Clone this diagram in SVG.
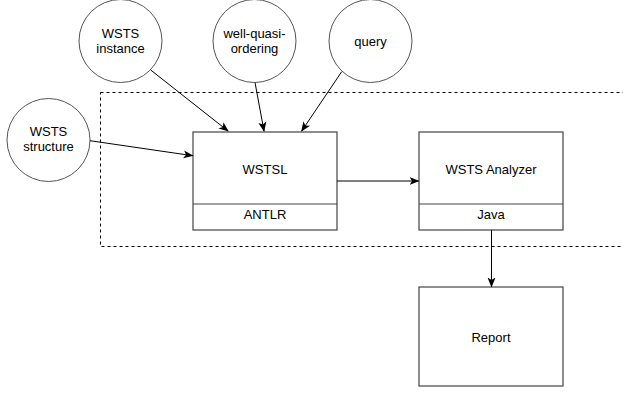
<svg xmlns="http://www.w3.org/2000/svg" width="623" height="394" viewBox="0 0 623 394">
<style>
.c{fill:#fff;stroke:#555;stroke-width:1}
.b{fill:#fff;stroke:#444;stroke-width:1.2}
.t{font-family:"Liberation Sans",Arial,sans-serif;font-size:13px;fill:#000;text-anchor:middle}
.e{fill:none;stroke:#000;stroke-width:1}
</style>
<defs>
<marker id="a" viewBox="0 0 10 10" refX="9" refY="5" markerWidth="10" markerHeight="10" markerUnits="userSpaceOnUse" orient="auto">
<path d="M0,1 L10,5 L0,9 L2.5,5 Z" fill="#000"/>
</marker>
</defs>
<rect x="100.5" y="92.5" width="540" height="154" fill="none" stroke="#000" stroke-width="1" stroke-dasharray="3,3"/>
<g id="wsts-instance"><circle class="c" cx="120.5" cy="41" r="41.5"/><text class="t" x="120.5" y="38">WSTS</text><text class="t" x="120.5" y="53">instance</text></g>
<g id="wqo"><circle class="c" cx="254.5" cy="41" r="41.5"/><text class="t" x="254.5" y="38">well-quasi-</text><text class="t" x="254.5" y="53">ordering</text></g>
<g id="query"><circle class="c" cx="370.5" cy="41" r="41.5"/><text class="t" x="370.5" y="46">query</text></g>
<g id="wsts-structure"><circle class="c" cx="48.5" cy="140" r="41.5"/><text class="t" x="48.5" y="136">WSTS</text><text class="t" x="48.5" y="151">structure</text></g>
<g id="wstsl"><rect class="b" x="193" y="132" width="144" height="98"/><line x1="193" y1="204" x2="337" y2="204" stroke="#444" stroke-width="1.2"/><text class="t" x="265" y="174">WSTSL</text><text class="t" x="265" y="219">ANTLR</text></g>
<g id="analyzer"><rect class="b" x="419" y="132" width="144" height="98"/><line x1="419" y1="204" x2="563" y2="204" stroke="#444" stroke-width="1.2"/><text class="t" x="491" y="174">WSTS Analyzer</text><text class="t" x="491" y="219">Java</text></g>
<g id="report"><rect class="b" x="419" y="287" width="144" height="99"/><text class="t" x="491" y="342">Report</text></g>
<g id="connectors">
<path class="e" d="M150.7,70 L228,131" marker-end="url(#a)"/>
<path class="e" d="M255,82.5 L264,131" marker-end="url(#a)"/>
<path class="e" d="M341.7,71.7 L301.7,131" marker-end="url(#a)"/>
<path class="e" d="M90,140.7 L192.5,155.7" marker-end="url(#a)"/>
<path class="e" d="M337,181 L418.5,181" marker-end="url(#a)"/>
<path class="e" d="M491.5,230 L491.5,286.5" marker-end="url(#a)"/>
</g>
</svg>
